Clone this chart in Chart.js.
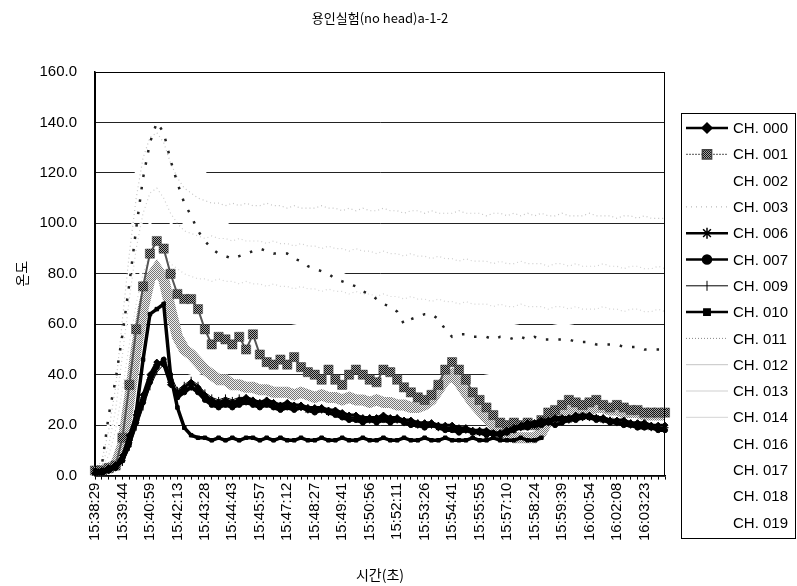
<!DOCTYPE html>
<html>
<head>
<meta charset="utf-8">
<script src="https://cdn.jsdelivr.net/npm/chart.js"></script>
<style>
  body { margin: 0; background: #fff; }
  #chart { display: block; }
</style>
</head>
<body>
<canvas id="chart" width="797" height="586"></canvas>
<script>
// tick labels every 4 samples (Excel shows one label per 15 readings)
const tickLabels = ['15:38:29', '15:39:44', '15:40:59', '15:42:13', '15:43:28', '15:44:43', '15:45:57',
    '15:47:12', '15:48:27', '15:49:41', '15:50:56', '15:52:11', '15:53:26', '15:54:41', '15:55:55',
    '15:57:10', '15:58:24', '15:59:39', '16:00:54', '16:02:08', '16:03:23'];

const ch000 = [1, 2, 3, 4, 8, 16, 24, 32, 40, 45, 44, 36, 33, 35, 37, 35,
    32, 30, 29, 30, 29, 30, 31, 30, 29, 30, 29, 28, 29, 28, 28, 27,
    27, 27, 26, 26, 25, 24, 24, 23, 23, 23, 24, 23, 23, 22, 22, 21,
    21, 21, 20, 20, 20, 19, 19, 18, 18, 18, 17, 17, 18, 19, 20, 21,
    21, 22, 22, 23, 23, 23, 24, 24, 24, 23, 23, 22, 22, 22, 21, 21, 21, 20, 20, 20];
const ch001 = [2, 2, 3, 4, 15, 36, 58, 75, 88, 93, 90, 80, 72, 70, 70, 66,
    58, 52, 55, 54, 52, 55, 50, 56, 48, 45, 44, 46, 44, 47, 43, 41,
    40, 38, 42, 38, 36, 40, 42, 40, 38, 37, 42, 41, 38, 35, 33, 31,
    30, 32, 36, 42, 45, 42, 38, 33, 30, 27, 24, 21, 20, 21, 20, 21,
    20, 22, 25, 26, 28, 30, 29, 28, 29, 30, 28, 27, 28, 27, 26, 26, 25, 25, 25, 25];
const ch003 = [2, 2, 3, 4, 12, 30, 50, 66, 78, 82, 78, 66, 55, 50, 48, 45,
    42, 40, 38, 38, 36, 36, 35, 35, 34, 34, 33, 33, 33, 32, 33, 32,
    31, 32, 31, 31, 30, 31, 30, 30, 29, 30, 29, 29, 28, 28, 27, 27,
    28, 30, 34, 38, 40, 37, 33, 29, 26, 23, 20, 17, 16, 15, 15, 15,
    15, 17, 22, 24, 25, 26, 27, 27, 26, 27, 27, 26, 26, 25, 25, 25, 24, 24, 24, 24];
const ch006 = [1, 1, 2, 4, 7, 14, 22, 30, 38, 44, 45, 37, 32, 34, 35, 34,
    31, 29, 28, 29, 28, 29, 30, 29, 28, 29, 28, 27, 28, 27, 27, 26,
    26, 26, 25, 25, 24, 23, 23, 22, 22, 22, 23, 22, 22, 21, 21, 20,
    20, 20, 19, 19, 19, 18, 18, 17, 17, 17, 16, 16, 17, 18, 19, 20,
    20, 21, 21, 22, 22, 22, 23, 23, 23, 23, 22, 22, 21, 21, 20, 20, 20, 19, 19, 19];
const ch007 = [0, 1, 2, 3, 6, 13, 21, 29, 37, 43, 46, 38, 31, 33, 35, 33,
    30, 28, 27, 28, 27, 28, 29, 28, 27, 28, 27, 26, 27, 26, 27, 26,
    25, 26, 25, 24, 23, 22, 22, 21, 22, 21, 22, 21, 22, 21, 20, 20,
    19, 20, 19, 18, 18, 17, 18, 17, 17, 16, 17, 16, 17, 18, 19, 19,
    20, 20, 21, 20, 21, 22, 22, 23, 23, 22, 22, 21, 21, 20, 20, 19, 19, 19, 18, 18];
const ch009 = [1, 1, 2, 3, 5, 11, 19, 27, 35, 41, 44, 40, 34, 36, 38, 36,
    33, 31, 30, 31, 30, 31, 31, 30, 29, 30, 29, 28, 28, 28, 27, 27,
    26, 27, 26, 25, 24, 23, 23, 22, 23, 22, 23, 22, 23, 22, 21, 21,
    20, 21, 20, 19, 19, 18, 19, 18, 18, 17, 17, 17, 18, 19, 20, 20,
    21, 21, 22, 21, 22, 23, 23, 24, 24, 23, 23, 22, 22, 21, 21, 20, 20, 20, 19, 19];
const ch010 = [2, 2, 3, 4, 6, 12, 25, 46, 64, 66, 68, 40, 27, 19, 16, 15,
    15, 14, 15, 14, 15, 14, 15, 15, 14, 15, 14, 15, 14, 14, 15, 14,
    14, 15, 14, 14, 15, 14, 14, 15, 14, 14, 15, 14, 14, 15, 14, 14,
    15, 14, 14, 15, 14, 14, 14, 15, 14, 14, 15, 14, 14, 14, 15, 14,
    14, 15, null, null, null, null, null, null, null, null, null, null, null, null, null, null, null, null, null, null];
const ch011 = [2, 4, 24, 38, 56, 76, 98, 118, 132, 140, 136, 125, 116, 108, 103, 97,
    93, 90, 88, 87, 86, 87, 88, 89, 90, 89, 88, 88, 88, 86, 85, 83,
    82, 81, 80, 78, 77, 76, 75, 73, 72, 70, 68, 67, 65, 60, 62, 63,
    64, 64, 62, 58, 55, 56, 56, 55, 55, 55, 54, 55, 55, 54, 55, 54,
    55, 54, 54, 54, 54, 54, 53, 53, 53, 52, 52, 52, 52, 51, 51, 51, 50, 50, 50, 50];
const ch012 = [2, 6, 18, 35, 62, 88, 110, 126, 134, 136, 132, 124, 118, 114, 112, 110,
    109, 108, 108, 107, 108, 107, 108, 107, 107, 108, 107, 107, 106, 107, 106, 106,
    106, 107, 106, 106, 105, 106, 105, 106, 105, 105, 106, 105, 105, 104, 105, 105,
    104, 105, 104, 104, 104, 105, 104, 104, 104, 103, 104, 104, 103, 104, 103, 104,
    103, 104, 103, 103, 104, 103, 103, 103, 104, 103, 103, 103, 102, 103, 103, 102, 103, 102, 102, 102];
const ch013 = [1, 4, 12, 26, 48, 70, 90, 104, 112, 114, 110, 104, 100, 97, 96, 95,
    94, 95, 94, 94, 93, 94, 93, 93, 93, 92, 93, 92, 92, 91, 92, 91,
    91, 90, 91, 90, 90, 89, 90, 89, 89, 88, 89, 88, 88, 87, 88, 87,
    87, 86, 87, 86, 86, 85, 86, 85, 85, 85, 84, 85, 84, 84, 85, 84,
    84, 84, 83, 84, 84, 83, 84, 83, 83, 83, 84, 83, 83, 82, 83, 83, 82, 82, 83, 82];
const ch014 = [1, 3, 8, 18, 34, 52, 68, 80, 88, 90, 88, 84, 82, 80, 79, 78,
    78, 77, 78, 77, 77, 76, 77, 76, 76, 75, 76, 75, 75, 74, 75, 74,
    74, 73, 74, 73, 73, 72, 73, 72, 72, 71, 72, 71, 71, 70, 71, 70,
    70, 69, 70, 69, 69, 68, 69, 68, 68, 68, 67, 68, 67, 67, 68, 67,
    67, 67, 66, 67, 67, 66, 67, 66, 66, 66, 67, 66, 66, 65, 66, 66, 65, 65, 66, 65];
// near-white channels: only visible where they cut the gridlines; [sample, value]
const ch002 = [[0, 1], [4, 30], [6, 90], [8, 118], [10, 124], [12, 80], [20, 80], [28, 80], [36, 80], [40, 74], [44, 70], [48, 68], [56, 64], [64, 62], [72, 58], [83, 56]];
const ch016 = [[0, 1], [4, 20], [6, 50], [8, 72], [10, 76], [12, 70], [16, 66], [20, 64], [26, 62], [30, 60], [40, 60], [50, 60], [60, 60], [66, 57], [72, 55], [83, 53]];
const ch017 = [[0, 1], [4, 12], [6, 30], [8, 44], [10, 46], [12, 42], [16, 39], [24, 38], [32, 37], [40, 38], [48, 38], [56, 39], [58, 40], [70, 40], [83, 40]];
const ch018 = [[0, 1], [4, 25], [6, 70], [8, 100], [10, 110], [13, 100], [19, 100], [22, 95], [28, 92], [36, 90], [48, 88], [60, 86], [72, 85], [83, 84]];
const ch019 = [[0, 1], [4, 40], [5, 80], [6, 120], [16, 120], [18, 112], [22, 108], [30, 106], [40, 105], [52, 104], [64, 104], [76, 103], [83, 103]];

const categories = [];
tickLabels.forEach(t => categories.push(t, '', '', ''));

function sparse(pairs) {
    const arr = categories.map(() => null);
    pairs.forEach(p => { arr[p[0]] = p[1]; });
    return arr;
}

const canvas = document.getElementById('chart');
const ctx = canvas.getContext('2d');

// 2x2 dither, like the scanned halftone
function dither(dark, light) {
    const c = document.createElement('canvas');
    c.width = 2; c.height = 2;
    const g = c.getContext('2d');
    g.fillStyle = light; g.fillRect(0, 0, 2, 2);
    g.fillStyle = dark; g.fillRect(0, 0, 1, 1); g.fillRect(1, 1, 1, 1);
    return ctx.createPattern(c, 'repeat');
}
const darkDither = dither('#111', '#a8a8a8');
const lightDither = dither('#777', '#eeeeee');

function blackSeries(label, data, style, radius, width) {
    return {
        label: label, data: data, borderColor: '#000', borderWidth: width,
        pointStyle: style, pointRadius: radius, pointBackgroundColor: '#000', pointBorderColor: '#000',
        pointBorderWidth: 1, legendRadius: radius + 2, legendLine: Math.min(width, 2.5), order: 0
    };
}
function faintSeries(label, data, color) {
    return {
        label: label, data: data, borderColor: color, borderWidth: 1.2, borderDash: [1, 3],
        pointRadius: 0, legendLine: 1, order: 4
    };
}
function whiteSeries(label, pairs) {
    return {
        label: label, data: sparse(pairs), borderColor: '#fff', borderWidth: 3, spanGaps: true,
        pointRadius: 0, legendLine: 1, order: 5
    };
}

const datasets = [
    blackSeries('CH. 000', ch000, 'rectRot', 3, 3),
    {
        label: 'CH. 001', data: ch001, borderColor: '#555', borderWidth: 2,
        pointStyle: 'rect', pointRadius: 6.5, pointBackgroundColor: darkDither, pointBorderColor: '#444',
        pointBorderWidth: 0.5, legendRadius: 6.5, legendLine: 1, legendDash: [2, 1], order: 2
    },
    whiteSeries('CH. 002', ch002),
    {
        label: 'CH. 003', data: ch003, borderColor: lightDither, borderWidth: 11,
        pointRadius: 0, legendLine: 1, legendColor: '#aaa', legendDash: [1, 4], order: 3
    },
    blackSeries('CH. 006', ch006, 'star', 3.5, 2.5),
    blackSeries('CH. 007', ch007, 'circle', 2.5, 3.5),
    blackSeries('CH. 009', ch009, 'line', 3, 1),
    blackSeries('CH. 010', ch010, 'rect', 2.5, 3.5),
    {
        label: 'CH. 011', data: ch011, borderColor: '#222', borderWidth: 2.5, borderDash: [2.5, 10],
        pointRadius: 0, legendLine: 1, legendColor: '#888', legendDash: [1, 2], order: 1
    },
    faintSeries('CH. 012', ch012, '#c4c4c4'),
    faintSeries('CH. 013', ch013, '#cfcfcf'),
    faintSeries('CH. 014', ch014, '#d4d4d4'),
    whiteSeries('CH. 016', ch016),
    whiteSeries('CH. 017', ch017),
    whiteSeries('CH. 018', ch018),
    whiteSeries('CH. 019', ch019)
];
datasets[6].pointRotation = 90;

const tickFont = { family: '"Liberation Sans", Arial, sans-serif', size: 15 };
const krFont = { family: '"Noto Sans CJK KR", sans-serif', size: 14 };

// Excel style legend: line sample with marker, boxed
const legendBox = {
    id: 'legendBox',
    afterDraw(chart) {
        const c = chart.ctx;
        c.save();
        c.strokeStyle = '#000';
        c.lineWidth = 1;
        c.strokeRect(681.5, 113.5, 114, 425);
        chart.data.datasets.forEach((ds, i) => {
            const y = 128 + i * 26.3;
            if (ds.borderColor !== '#fff') {
                c.save();
                c.strokeStyle = ds.legendColor || ds.borderColor;
                c.lineWidth = ds.legendLine;
                c.setLineDash(ds.legendDash || []);
                c.beginPath();
                c.moveTo(686, y);
                c.lineTo(728, y);
                c.stroke();
                c.restore();
            }
            if (ds.pointRadius > 0) {
                c.save();
                c.fillStyle = ds.pointBackgroundColor;
                c.strokeStyle = ds.pointBorderColor;
                c.lineWidth = ds.pointStyle === 'line' ? 1 : 1.5;
                Chart.helpers.drawPoint(c, {
                    pointStyle: ds.pointStyle, radius: ds.legendRadius,
                    rotation: ds.pointRotation || 0, borderWidth: c.lineWidth
                }, 707, y);
                c.restore();
            }
            c.fillStyle = '#000';
            c.font = '15px "Liberation Sans", Arial, sans-serif';
            c.textBaseline = 'middle';
            c.fillText(ds.label, 733, y + 1);
        });
        c.restore();
    }
};

const plotFrame = {
    id: 'plotFrame',
    afterDatasetsDraw(chart) {
        const a = chart.chartArea;
        const c = chart.ctx;
        c.save();
        c.strokeStyle = '#000';
        c.lineWidth = 1;
        c.strokeRect(a.left + 0.5, a.top + 0.5, a.right - a.left - 1, a.bottom - a.top);
        c.restore();
    }
};

const chart = new Chart(ctx, {
    type: 'line',
    data: { labels: categories, datasets: datasets },
    options: {
        responsive: false,
        animation: false,
        layout: { padding: { left: 0, right: 132, top: 0, bottom: 0 } },
        elements: { line: { tension: 0 } },
        plugins: {
            legend: { display: false },
            tooltip: { enabled: false },
            title: {
                display: true,
                text: '용인실험(no head)a-1-2',
                color: '#000',
                fullSize: false,
                font: { family: '"Noto Sans CJK KR", sans-serif', size: 13, weight: 'normal' },
                padding: { top: 10, bottom: 46.4 }
            }
        },
        scales: {
            x: {
                afterFit: (scale) => { scale.height = 110.4; },
                grid: { display: true, drawOnChartArea: false, drawTicks: true, tickLength: 4, color: '#000' },
                border: { display: true, color: '#000', width: 1.5 },
                ticks: {
                    autoSkip: false, maxRotation: 90, minRotation: 90, padding: 3,
                    color: '#000', font: tickFont
                },
                title: { display: true, text: '시간(초)', color: '#000', font: krFont, padding: { top: 0, bottom: 2.6 } }
            },
            y: {
                min: 0,
                max: 160,
                afterFit: (scale) => { scale.width = 95; },
                grid: { color: '#222', lineWidth: 1, drawTicks: false },
                border: { display: true, color: '#000', width: 1.5 },
                ticks: {
                    stepSize: 20, padding: 18, color: '#000', font: tickFont,
                    callback: (v) => v.toFixed(1)
                },
                title: { display: true, text: '온도', color: '#000', font: krFont, padding: { top: 13.6, bottom: 0 } }
            }
        }
    },
    plugins: [plotFrame, legendBox]
});
</script>
</body>
</html>
